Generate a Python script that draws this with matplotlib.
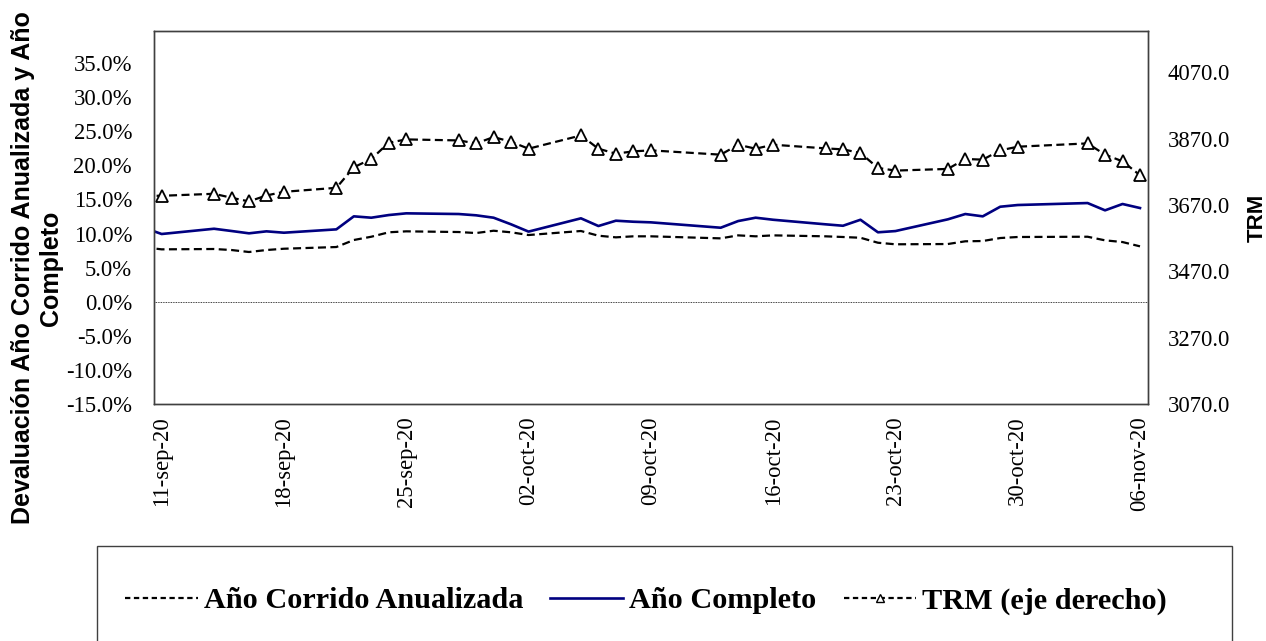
import numpy as np
import pandas as pd
import matplotlib
matplotlib.use("Agg")
import matplotlib.pyplot as plt
from matplotlib.lines import Line2D
from matplotlib.patches import Rectangle

# Fechas hábiles (sin festivos 12-oct y 02-nov)
fechas = ["2020-09-10", "2020-09-11",
          "2020-09-14", "2020-09-15", "2020-09-16", "2020-09-17", "2020-09-18",
          "2020-09-21", "2020-09-22", "2020-09-23", "2020-09-24", "2020-09-25",
          "2020-09-28", "2020-09-29", "2020-09-30", "2020-10-01", "2020-10-02",
          "2020-10-05", "2020-10-06", "2020-10-07", "2020-10-08", "2020-10-09",
          "2020-10-13", "2020-10-14", "2020-10-15", "2020-10-16",
          "2020-10-19", "2020-10-20", "2020-10-21", "2020-10-22", "2020-10-23",
          "2020-10-26", "2020-10-27", "2020-10-28", "2020-10-29", "2020-10-30",
          "2020-11-03", "2020-11-04", "2020-11-05", "2020-11-06"]

# Devaluación (%)
anio_corrido = [7.98, 7.68, 7.73, 7.58, 7.29, 7.58, 7.77, 8.02, 9.05, 9.53,
                10.18, 10.32, 10.22, 10.07, 10.41, 10.18, 9.78, 10.37, 9.68, 9.44,
                9.59, 9.59, 9.29, 9.73, 9.59, 9.73, 9.59, 9.49, 9.38, 8.65,
                8.42, 8.46, 8.86, 8.90, 9.34, 9.49, 9.53, 9.00, 8.75, 8.12]
anio_completo = [10.84, 9.93, 10.70, 10.37, 10.03, 10.32, 10.12, 10.61, 12.52, 12.32,
                 12.71, 12.96, 12.86, 12.67, 12.32, 11.35, 10.28, 12.23, 11.10, 11.88,
                 11.73, 11.64, 10.85, 11.83, 12.32, 12.02, 11.35, 11.14, 12.02, 10.18,
                 10.36, 12.08, 12.86, 12.52, 13.93, 14.18, 14.47, 13.40, 14.33, 13.74]
# TRM (pesos por dólar)
trm = [3698, 3698, 3704, 3692, 3681, 3699, 3710, 3722, 3784, 3809,
       3858, 3868, 3865, 3856, 3875, 3861, 3840, 3880, 3840, 3825,
       3832, 3835, 3822, 3852, 3840, 3852, 3841, 3838, 3827, 3782,
       3774, 3779, 3809, 3807, 3835, 3846, 3856, 3822, 3802, 3760]

fechas_ticks = ["2020-09-11", "2020-09-18", "2020-09-25", "2020-10-02", "2020-10-09",
                "2020-10-16", "2020-10-23", "2020-10-30", "2020-11-06"]
etiquetas_ticks = ["11-sep-20", "18-sep-20", "25-sep-20", "02-oct-20", "09-oct-20",
                   "16-oct-20", "23-oct-20", "30-oct-20", "06-nov-20"]

izq_ticks = [-15, -10, -5, 0, 5, 10, 15, 20, 25, 30, 35]
der_ticks = [3070, 3270, 3470, 3670, 3870, 4070]

serif = "Liberation Serif"
sans = "Liberation Sans"

x = pd.to_datetime(fechas)
xt = pd.to_datetime(fechas_ticks)

fig = plt.figure(figsize=(12.66, 6.41), dpi=100)
ax = fig.add_axes([154 / 1266, 1 - 404 / 641, 994 / 1266, 373 / 641])
ax2 = ax.twinx()

ax.plot(x, anio_corrido, color="black", lw=1.6, ls=(0, (3.6, 2.0)))
ax.plot(x, anio_completo, color="#000080", lw=1.9)
ax.axhline(0, color="black", lw=0.6, ls=(0, (1, 1)))
ax2.plot(x, trm, color="black", lw=1.6, ls=(0, (3.6, 2.0)), marker="^",
         ms=8.5, mfc="white", mec="black", mew=1.3)

ax.set_xlim(xt[0] - pd.Timedelta(hours=10.5), xt[-1] + pd.Timedelta(hours=11))
ax.set_ylim(-15, 39.7)
ax2.set_ylim(3070, 4195)

tick_fs = 16.3
ax.set_xticks(xt)
ax.set_xticklabels(etiquetas_ticks, rotation=90, fontfamily=serif, fontsize=tick_fs)
ax.set_yticks(izq_ticks)
ax.set_yticklabels([f"{v:.1f}%" for v in izq_ticks], fontfamily=serif, fontsize=tick_fs)
ax2.set_yticks(der_ticks)
ax2.set_yticklabels([f"{v:.1f}" for v in der_ticks], fontfamily=serif, fontsize=tick_fs)

ax.tick_params(axis="x", length=0, pad=9)
ax.tick_params(axis="y", length=0, pad=15.8)
ax2.tick_params(axis="y", length=0, pad=14.4)

for a in (ax, ax2):
    for s in a.spines.values():
        s.set_color("#404040")
        s.set_linewidth(1.0)

ax.set_ylabel("Devaluación Año Corrido Anualizada y Año\nCompleto",
              fontfamily=sans, fontweight="bold", fontsize=18,
              linespacing=1.22, multialignment="center")
ax.yaxis.set_label_coords(-0.0915, 0.365)
ax2.set_ylabel("TRM", fontfamily=sans, fontweight="bold", fontsize=16)
ax2.yaxis.set_label_coords(1.0996, 0.5)

# Recuadro de la leyenda
fig.patches.append(Rectangle((97 / 1266, -0.05), 1135 / 1266, 1 - 546 / 641 + 0.05,
                             transform=fig.transFigure, fill=False,
                             edgecolor="#404040", lw=1.0))
# Muestras de la leyenda con trazo más fino
h1 = Line2D([], [], color="black", lw=1.6, ls=(0, (2.4, 1.6)))
h2 = Line2D([], [], color="#000080", lw=1.9)
h3 = Line2D([], [], color="black", lw=1.6, ls=(0, (2.4, 1.6)), marker="^",
            ms=6, mfc="white", mec="black", mew=1.0)
fig.legend(handles=[h1, h2, h3],
           labels=["Año Corrido Anualizada", "Año Completo", "TRM (eje derecho)"],
           loc="center", ncol=3,
           bbox_to_anchor=(646 / 1266, 1 - 601 / 641), frameon=False,
           prop={"family": serif, "weight": "bold", "size": 21.8},
           handlelength=2.4, handletextpad=0.2, columnspacing=0.9)

fig.savefig("out.png", dpi=100)
